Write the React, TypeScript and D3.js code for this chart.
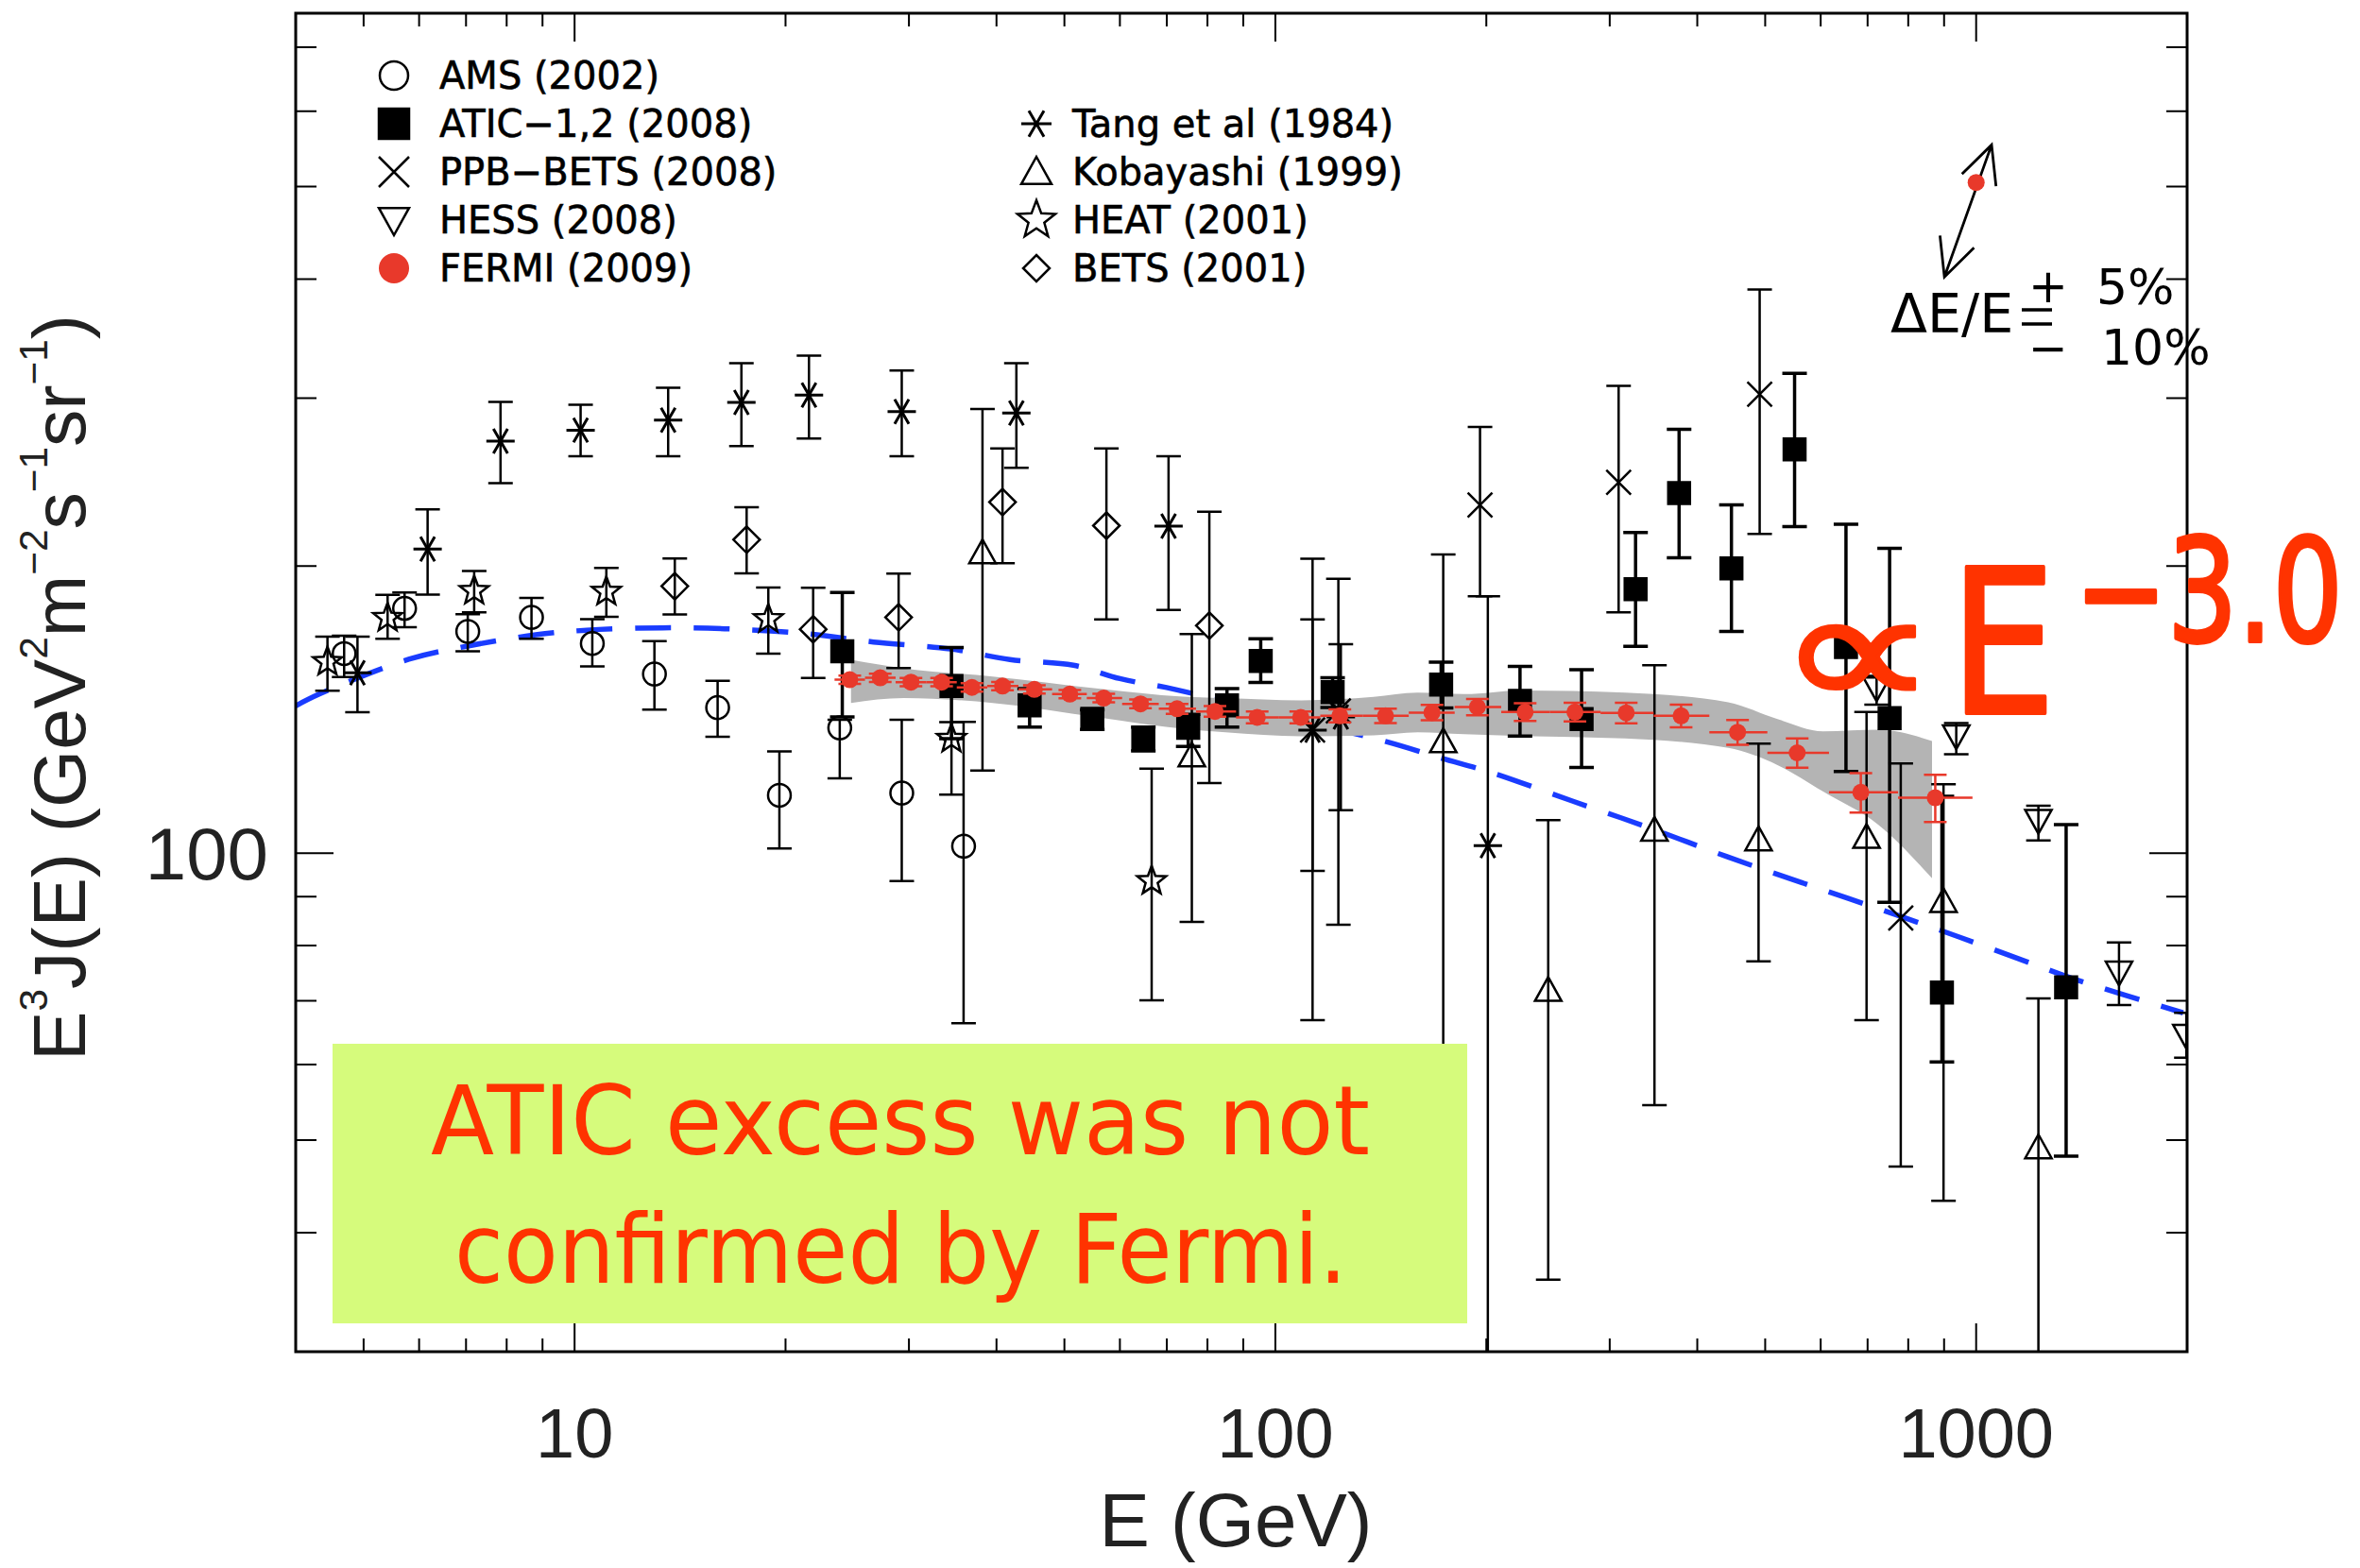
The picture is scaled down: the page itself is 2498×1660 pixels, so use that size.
import { useEffect, useRef } from 'react'
import * as d3 from 'd3'

// each point: [E (GeV), E^3 J(E), lower, upper]
type Pt = [number, number, number, number]

const amsPoints: Pt[] = [
  [4.69, 161.9, 153, 169], [5.72, 180.6, 172.6, 187.6], [7.04, 170.8, 162.8, 178.0],
  [8.68, 176.7, 167.8, 185.2], [10.6, 165.9, 157.0, 175.9], [13.0, 154.1, 141.4, 166.8],
  [16.0, 142.1, 132.4, 151.6], [19.6, 115.0, 101.1, 127.8], [23.9, 135.3, 119.8, 138.0],
  [29.3, 115.6, 93.5, 138.0], [35.9, 101.7, 66.3, 137.3]
]

const aticPoints: Pt[] = [
  [24.1, 162.8, 138.9, 187.6], [34.5, 149.7, 131.8, 164.3], [44.6, 142.9, 135.6, 148.8],
  [54.8, 138.3, 134.8, 141.3], [64.8, 131.7, 128.0, 135.6], [75.1, 135.3, 129.4, 139.8],
  [85.3, 142.9, 135.6, 148.8], [95.3, 159.0, 151.0, 167.8], [120.7, 147.5, 142.1, 152.7],
  [172.4, 150.2, 142.0, 158.6], [223.4, 144.4, 132.7, 157.0], [273.5, 138.2, 123.0, 155.7],
  [326.6, 189.1, 164.8, 216.9], [376.8, 238.6, 204.0, 278.2], [447.5, 198.9, 170.8, 231.8],
  [550.7, 265.1, 220.0, 318.5], [652, 164.5, 121.8, 221.2], [752.5, 138.5, 88.8, 208.8],
  [893.6, 71.4, 60.4, 114.7], [1344, 72.3, 48.1, 107.1]
]

const ppbPoints: Pt[] = [
  [113, 134.6, 66.8, 203.6], [123, 141.0, 84.1, 194.0], [195.9, 231.8, 185.9, 279.9],
  [308.9, 244.8, 178.9, 309.0], [491, 302.9, 216.2, 389.9], [780.6, 85.5, 46.9, 124.2]
]

const hessPoints: Pt[] = [
  [721, 149.0, 143.1, 153.4], [936.7, 132.7, 127.0, 136.9], [1227, 108.2, 103.1, 112.1],
  [1599, 75.0, 69.3, 80.6], [1995, 64.4, 61, 68]
]

const tangPoints: Pt[] = [
  [4.90, 154.6, 140.5, 168.7], [6.17, 208.4, 186.7, 229.3], [7.84, 270.4, 244.4, 297.3],
  [10.2, 277.7, 260.7, 295.3], [13.6, 284.5, 260.7, 307.7], [17.3, 296.9, 267.2, 326.5],
  [21.6, 302.3, 272.1, 332.5], [29.3, 290.4, 260.7, 320.8], [42.7, 289.5, 253.5, 326.5],
  [70.4, 220.3, 179.9, 260.8], [113, 134.6, 95.8, 175.8], [124, 138.9, 110.9, 165.6],
  [201, 101.8, 20, 185.9]
]

const kobayashiPoints: Pt[] = [
  [38.2, 206.6, 122.1, 292.2], [76.0, 126.5, 84.7, 169.7], [173.6, 130.9, 50, 205.7],
  [245.1, 71.8, 35.7, 108.3], [347.5, 105.7, 54.4, 157.4], [489.2, 103.3, 77.0, 130.3],
  [697.6, 103.9, 66.8, 140.6], [898.3, 89.0, 43.2, 118.1], [1227, 49.1, 20, 70.4]
]

const heatPoints: Pt[] = [
  [4.44, 158.7, 148, 168.7], [5.41, 176.5, 167.8, 186.6], [7.19, 188.4, 178.9, 197.6],
  [11.1, 188.0, 176.9, 199.1], [18.9, 176.0, 161.9, 189.9], [34.5, 131.8, 115.2, 137.2],
  [66.6, 93.5, 70.1, 122.6]
]

const betsPoints: Pt[] = [
  [13.9, 190.5, 177.9, 203.7], [17.6, 213.2, 196.5, 230.5], [21.9, 171.7, 152.6, 189.8],
  [29.0, 176.7, 156.3, 196.4], [40.8, 233.4, 201.4, 265.7], [57.4, 220.5, 175.8, 265.7],
  [80.5, 173.2, 118.4, 228.1]
]

// Fermi LAT 2009
const fermiE = [24.7, 27.3, 30.2, 33.4, 36.9, 40.8, 45.3, 50.9, 56.9, 64.2, 72.4, 82.0, 94.2,
  108.7, 123.6, 143.6, 167.3, 194.2, 227.2, 267.6, 316.7, 379.3, 456.6, 555.4, 684.6, 874.3]
const fermiV = [152.0, 152.7, 151.1, 151.1, 149.2, 149.7, 148.5, 146.8, 145.4, 143.4, 141.7, 140.8, 138.8,
  138.8, 139.3, 139.3, 140.4, 142.3, 140.6, 140.6, 140.3, 139.3, 133.9, 127.4, 115.8, 114.3]
const fermiErr = [1.5, 1.5, 1.5, 1.5, 1.5, 1.5, 1.5, 1.5, 1.5, 1.5, 1.7, 1.8, 2.0,
  2.0, 2.2, 2.4, 2.6, 2.8, 3.0, 3.2, 3.5, 3.8, 4.0, 4.5, 5.5, 6.5]

// systematic band
const bandE = [24.8, 29.5, 39.5, 55.9, 73.8, 84.9, 108.9, 138.1, 159.6, 186, 224.4, 315.3, 442.8, 520.6, 605, 726, 865]
const bandHi = [159.5, 156.2, 153.2, 148.8, 145.9, 145.4, 144.6, 145.8, 147.3, 146.8, 148.1, 147.3, 143.9, 138.2, 134.2, 134.7, 131.1]
const bandLo = [143.7, 145.4, 143.7, 138.8, 135.0, 133.9, 132.6, 132.9, 133.9, 133.3, 132.7, 131.9, 128.9, 123.7, 116.0, 107.0, 94.1]

// conventional model (blue dashed)
const modelE = [4.0, 4.33, 5.8, 6.95, 8.8, 10.4, 13.35, 17.1, 21.7, 26.7, 34.4, 41.8, 51.5, 60.0, 71.9,
  100, 143.9, 172.4, 202.6, 265.3, 341.7, 440, 566.8, 730, 939.7, 1211, 1385, 1974]
const modelV = [142.7, 146.9, 159.7, 164.6, 169.4, 171.3, 172.3, 171.7, 169.7, 166.5, 163.7, 159.6, 157.4, 152.4, 148.5,
  139.8, 130.9, 125.8, 121.6, 113.4, 106.3, 99.2, 93.0, 87.3, 81.8, 76.4, 73.7, 68.0]

// energy resolution marker: point, +5% end, -10% end
const resPoint = [1000, 505]
const resUp = [1052, 553]
const resDown = [901, 402]

const xMajorTicks = [10, 100, 1000]
const xMinorTicks = [5, 6, 7, 8, 9, 20, 30, 40, 50, 60, 70, 80, 90, 200, 300, 400, 500, 600, 700, 800, 900]
const yMajorTicks = [100]
const yMinorTicks = [40, 50, 60, 70, 80, 90, 200, 300, 400, 500, 600, 700]

const leftLegend = [
  { label: 'AMS (2002)', kind: 'circle' },
  { label: 'ATIC−1,2 (2008)', kind: 'square' },
  { label: 'PPB−BETS (2008)', kind: 'cross' },
  { label: 'HESS (2008)', kind: 'triDown' },
  { label: 'FERMI (2009)', kind: 'dot' }
]
const rightLegend = [
  { label: 'Tang et al (1984)', kind: 'asterisk' },
  { label: 'Kobayashi (1999)', kind: 'triUp' },
  { label: 'HEAT (2001)', kind: 'star' },
  { label: 'BETS (2001)', kind: 'diamond' }
]

const FERMI_RED = '#e8392b'
const NOTE_RED = '#ff3300'

function markerPath(kind: string, s: number): string {
  switch (kind) {
    case 'circle':
    case 'dot':
      return `M${s},0A${s},${s} 0 1 1 ${-s},0A${s},${s} 0 1 1 ${s},0Z`
    case 'square':
      return `M${-s},${-s}h${2 * s}v${2 * s}h${-2 * s}Z`
    case 'cross':
      return `M${-s},${-s}L${s},${s}M${-s},${s}L${s},${-s}`
    case 'triUp':
      return `M0,${-s}L${s},${s * 0.8}L${-s},${s * 0.8}Z`
    case 'triDown':
      return `M0,${s}L${s},${-s * 0.8}L${-s},${-s * 0.8}Z`
    case 'diamond':
      return `M0,${-s}L${s},0L0,${s}L${-s},0Z`
    case 'asterisk':
      return [0, 60, 120].map(a => {
        const r = (a * Math.PI) / 180
        const dx = s * Math.cos(r)
        const dy = s * Math.sin(r)
        return `M${-dx},${-dy}L${dx},${dy}`
      }).join('')
    case 'star': {
      const pts: string[] = []
      for (let i = 0; i < 10; i++) {
        const r = i % 2 === 0 ? s : s * 0.42
        const a = -Math.PI / 2 + (i * Math.PI) / 5
        pts.push(`${r * Math.cos(a)},${r * Math.sin(a)}`)
      }
      return 'M' + pts.join('L') + 'Z'
    }
  }
  return ''
}

export default function App() {
  const svgRef = useRef<SVGSVGElement>(null)

  useEffect(() => {
    if (!svgRef.current) return
    const svg = d3.select(svgRef.current)
    svg.selectAll('*').remove()

    const left = 313, right = 2315, top = 14, bottom = 1431
    const x = d3.scaleLog().domain([4, 2000]).range([left, right])
    const y = d3.scaleLog().domain([30, 760]).range([bottom, top])

    svg.append('rect').attr('width', 2498).attr('height', 1660).attr('fill', '#fff')

    svg.append('defs').append('clipPath').attr('id', 'plot-clip')
      .append('rect')
      .attr('x', left).attr('y', top)
      .attr('width', right - left).attr('height', bottom - top)

    const plot = svg.append('g').attr('clip-path', 'url(#plot-clip)')

    // model curve
    const modelLine = d3.line<number>()
      .x((d, i) => x(modelE[i]))
      .y(d => y(d))
      .curve(d3.curveCatmullRom)
    plot.append('path')
      .attr('d', modelLine(modelV))
      .attr('fill', 'none')
      .attr('stroke', '#1a3cff')
      .attr('stroke-width', 5.5)
      .attr('stroke-dasharray', '38,24')

    // systematic band
    const band = d3.area<number>()
      .x(d => x(d))
      .y0((d, i) => y(bandLo[i]))
      .y1((d, i) => y(bandHi[i]))
      .curve(d3.curveMonotoneX)
    plot.append('path').attr('d', band(bandE)).attr('fill', '#b4b4b4')

    // other experiments
    const series = [
      { points: tangPoints, kind: 'asterisk', size: 15, filled: false, errWidth: 2.5 },
      { points: amsPoints, kind: 'circle', size: 12, filled: false, errWidth: 2.5 },
      { points: heatPoints, kind: 'star', size: 16, filled: false, errWidth: 2.5 },
      { points: betsPoints, kind: 'diamond', size: 14, filled: false, errWidth: 2.5 },
      { points: kobayashiPoints, kind: 'triUp', size: 14, filled: false, errWidth: 2.5 },
      { points: hessPoints, kind: 'triDown', size: 14, filled: false, errWidth: 2.5 },
      { points: ppbPoints, kind: 'cross', size: 13, filled: false, errWidth: 2.5 },
      { points: aticPoints, kind: 'square', size: 11.5, filled: true, errWidth: 3.5 }
    ]

    const cap = 13
    series.forEach(s => {
      const g = plot.append('g')
      s.points.forEach(([e, v, lo, hi]) => {
        const cx = x(e)
        const path = `M${cx},${y(lo)}V${y(hi)}M${cx - cap},${y(lo)}h${2 * cap}M${cx - cap},${y(hi)}h${2 * cap}`
        g.append('path').attr('d', path).attr('stroke', '#000').attr('stroke-width', s.errWidth).attr('fill', 'none')
        g.append('path')
          .attr('d', markerPath(s.kind, s.size))
          .attr('transform', `translate(${cx},${y(v)})`)
          .attr('fill', s.filled ? '#000' : 'none')
          .attr('stroke', '#000')
          .attr('stroke-width', s.kind === 'asterisk' ? 3 : 2.5)
      })
    })

    // Fermi points with bin widths
    const edges = fermiE.slice(1).map((e, i) => Math.sqrt(e * fermiE[i]))
    const lowEdges = [fermiE[0] * fermiE[0] / edges[0], ...edges]
    const highEdges = [...edges, fermiE[fermiE.length - 1] ** 2 / edges[edges.length - 1]]
    const fg = plot.append('g')
    fermiE.forEach((e, i) => {
      const cx = x(e)
      const cy = y(fermiV[i])
      const y0 = y(fermiV[i] - fermiErr[i])
      const y1 = y(fermiV[i] + fermiErr[i])
      fg.append('path')
        .attr('d', `M${x(lowEdges[i])},${cy}H${x(highEdges[i])}M${cx},${y0}V${y1}M${cx - 12},${y0}h24M${cx - 12},${y1}h24`)
        .attr('stroke', FERMI_RED).attr('stroke-width', 2.5).attr('fill', 'none')
      fg.append('circle').attr('cx', cx).attr('cy', cy).attr('r', 9).attr('fill', FERMI_RED)
    })

    // frame and ticks
    const axes = svg.append('g').attr('stroke', '#000')
    axes.append('rect')
      .attr('x', left).attr('y', top)
      .attr('width', right - left).attr('height', bottom - top)
      .attr('fill', 'none').attr('stroke-width', 3)
    const xt = [...xMajorTicks.map(v => ({ v, len: 30 })), ...xMinorTicks.map(v => ({ v, len: 14 }))]
    xt.forEach(t => {
      axes.append('path')
        .attr('d', `M${x(t.v)},${bottom}v${-t.len}M${x(t.v)},${top}v${t.len}`)
        .attr('stroke-width', 2)
    })
    const yt = [...yMajorTicks.map(v => ({ v, len: 40 })), ...yMinorTicks.map(v => ({ v, len: 22 }))]
    yt.forEach(t => {
      axes.append('path')
        .attr('d', `M${left},${y(t.v)}h${t.len}M${right},${y(t.v)}h${-t.len}`)
        .attr('stroke-width', 2)
    })

    // tick labels
    const axisFont = '"Liberation Sans", Arial, sans-serif'
    xMajorTicks.forEach(v => {
      svg.append('text')
        .attr('x', x(v)).attr('y', 1543)
        .attr('text-anchor', 'middle')
        .attr('font-family', axisFont).attr('font-size', 74)
        .attr('fill', '#222')
        .text(String(v))
    })
    yMajorTicks.forEach(v => {
      svg.append('text')
        .attr('x', 284).attr('y', y(v) + 28)
        .attr('text-anchor', 'end')
        .attr('font-family', axisFont).attr('font-size', 78)
        .attr('fill', '#222')
        .text(String(v))
    })

    // axis titles
    svg.append('text')
      .attr('x', 1308).attr('y', 1637)
      .attr('text-anchor', 'middle')
      .attr('font-family', axisFont).attr('font-size', 80)
      .attr('fill', '#222')
      .text('E (GeV)')

    const yTitle = svg.append('text')
      .attr('transform', 'translate(90,1123) rotate(-90)')
      .attr('font-family', axisFont).attr('font-size', 78)
      .attr('fill', '#222')
      .attr('textLength', 790).attr('lengthAdjust', 'spacingAndGlyphs')
    const parts: [string, boolean][] = [
      ['E', false], ['3', true], ['J(E) (GeV', false], ['2', true], ['m', false], ['−2', true],
      ['s', false], ['−1', true], ['sr', false], ['−1', true], [')', false]
    ]
    parts.forEach(([t, sup]) => {
      yTitle.append('tspan')
        .attr('font-size', sup ? 42 : 78)
        .attr('baseline-shift', sup ? '95%' : '0')
        .text(t)
    })

    // legends
    const legendFont = '"DejaVu Sans", sans-serif'
    const drawLegend = (items: { label: string, kind: string }[], mx: number, tx: number, y0: number) => {
      items.forEach((it, i) => {
        const by = y0 + i * 51
        const my = by - 14
        const filled = it.kind === 'square' || it.kind === 'dot'
        const size = it.kind === 'star' ? 21 : it.kind === 'diamond' ? 14 : it.kind === 'circle' ? 15 : 16
        svg.append('path')
          .attr('d', markerPath(it.kind, size))
          .attr('transform', `translate(${mx},${my})`)
          .attr('fill', filled ? (it.kind === 'dot' ? FERMI_RED : '#000') : 'none')
          .attr('stroke', it.kind === 'dot' ? 'none' : '#000')
          .attr('stroke-width', it.kind === 'asterisk' ? 3 : 2.5)
        svg.append('text')
          .attr('x', tx).attr('y', by)
          .attr('font-family', legendFont).attr('font-size', 40)
          .attr('fill', '#000').attr('stroke', '#000').attr('stroke-width', 0.6)
          .text(it.label)
      })
    }
    drawLegend(leftLegend, 417, 465, 94)
    drawLegend(rightLegend, 1097, 1135, 145)

    // energy resolution annotation
    const px = x(resPoint[0]), py = y(resPoint[1])
    const ux = x(resUp[0]), uy = y(resUp[1])
    const dx = x(resDown[0]), dy = y(resDown[1])
    const head = (tx: number, ty: number, fx: number, fy: number) => {
      const a = Math.atan2(fy - ty, fx - tx)
      const l = 44, w = 0.45
      return `M${tx + l * Math.cos(a + w)},${ty + l * Math.sin(a + w)}L${tx},${ty}L${tx + l * Math.cos(a - w)},${ty + l * Math.sin(a - w)}`
    }
    svg.append('path')
      .attr('d', `M${dx},${dy}L${ux},${uy}` + head(ux, uy, dx, dy) + head(dx, dy, ux, uy))
      .attr('fill', 'none').attr('stroke', '#000').attr('stroke-width', 2.8)
    svg.append('circle').attr('cx', px).attr('cy', py).attr('r', 9).attr('fill', FERMI_RED)

    const note = svg.append('g').attr('font-family', legendFont).attr('fill', '#000')
    note.append('text').attr('x', 2001).attr('y', 352).attr('font-size', 57).text('ΔE/E')
    note.append('path')
      .attr('d', 'M2140,328h32M2140,343h32')
      .attr('stroke', '#000').attr('stroke-width', 3.5)
    note.append('text').attr('x', 2168).attr('y', 320).attr('font-size', 50).attr('text-anchor', 'middle').text('+')
    note.append('text').attr('x', 2168).attr('y', 386).attr('font-size', 50).attr('text-anchor', 'middle').text('−')
    note.append('text').attr('x', 2219).attr('y', 322).attr('font-size', 52).text('5%')
    note.append('text').attr('x', 2224).attr('y', 386).attr('font-size', 52).text('10%')

    // E^-3.0 label
    const big = svg.append('g').attr('font-family', legendFont).attr('fill', NOTE_RED)
      .attr('stroke', NOTE_RED).attr('stroke-linejoin', 'round')
    big.append('text').attr('x', 1880).attr('y', 750).attr('font-size', 180)
      .attr('stroke-width', 3)
      .attr('textLength', 172).attr('lengthAdjust', 'spacingAndGlyphs').text('∝')
    big.append('text').attr('x', 2064).attr('y', 755).attr('font-size', 212)
      .attr('stroke-width', 4)
      .attr('textLength', 112).attr('lengthAdjust', 'spacingAndGlyphs').text('E')
    big.append('text').attr('x', 2196).attr('y', 679).attr('font-size', 152)
      .attr('stroke-width', 4)
      .attr('textLength', 284).attr('lengthAdjust', 'spacingAndGlyphs').text('−3.0')

    // callout box
    svg.append('rect')
      .attr('x', 352).attr('y', 1105).attr('width', 1201).attr('height', 296)
      .attr('fill', '#d6fb7c')
    svg.append('text')
      .attr('x', 456).attr('y', 1222)
      .attr('font-family', legendFont).attr('font-size', 102).attr('fill', NOTE_RED)
      .attr('textLength', 994).attr('lengthAdjust', 'spacingAndGlyphs')
      .text('ATIC excess was not')
    svg.append('text')
      .attr('x', 481).attr('y', 1358)
      .attr('font-family', legendFont).attr('font-size', 102).attr('fill', NOTE_RED)
      .attr('textLength', 945).attr('lengthAdjust', 'spacingAndGlyphs')
      .text('confirmed by Fermi.')
  }, [])

  return (
    <svg
      ref={svgRef}
      width={2498}
      height={1660}
      style={{ position: 'absolute', left: 0, top: 0, display: 'block' }}
    />
  )
}
